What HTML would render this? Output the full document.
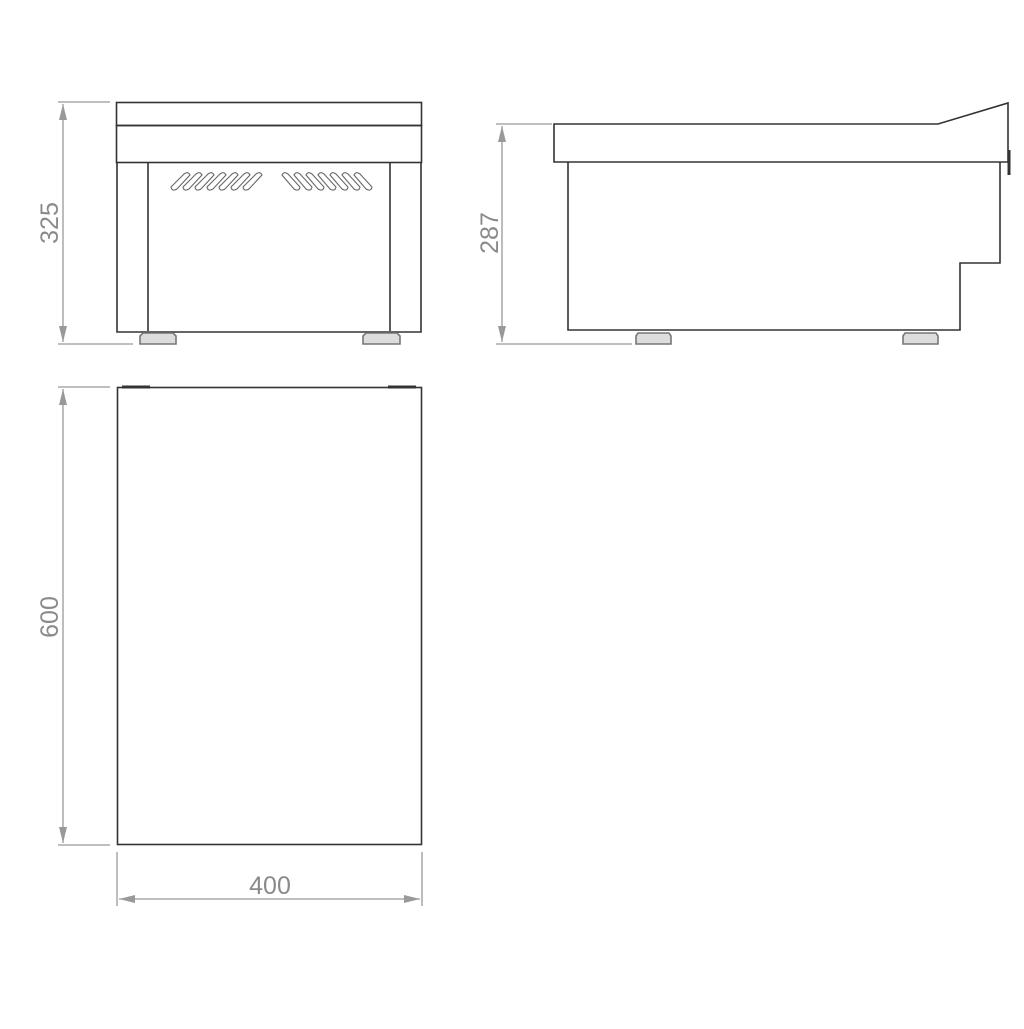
<!DOCTYPE html>
<html><head><style>html,body{margin:0;padding:0;background:#fff}</style></head>
<body>
<svg width="1024" height="1024" viewBox="0 0 1024 1024" xmlns="http://www.w3.org/2000/svg">
<defs>
<marker id="a" viewBox="0 0 10 10" refX="10" refY="5" markerWidth="16" markerHeight="8" orient="auto-start-reverse" markerUnits="userSpaceOnUse" preserveAspectRatio="none">
<path d="M0,0 L10,5 L0,10 Z" fill="#999"/></marker>
</defs>
<g fill="none" stroke="#999" stroke-width="1.3">
<line x1="58" y1="102" x2="110" y2="102"/><line x1="58" y1="344" x2="133" y2="344"/>
<line x1="63" y1="104" x2="63" y2="342" marker-start="url(#a)" marker-end="url(#a)"/>
<line x1="496" y1="124" x2="552" y2="124"/><line x1="496" y1="344" x2="632" y2="344"/>
<line x1="502" y1="126" x2="502" y2="342" marker-start="url(#a)" marker-end="url(#a)"/>
<line x1="58" y1="387" x2="110" y2="387"/><line x1="58" y1="845" x2="110" y2="845"/>
<line x1="63" y1="389" x2="63" y2="843" marker-start="url(#a)" marker-end="url(#a)"/>
<line x1="117" y1="852" x2="117" y2="906"/><line x1="422" y1="852" x2="422" y2="906"/>
<line x1="119" y1="899" x2="420" y2="899" marker-start="url(#a)" marker-end="url(#a)"/>
</g>
<g font-family="Liberation Sans, sans-serif" font-size="25" fill="#8a8a8a" text-anchor="middle">
<text transform="translate(58,223) rotate(-90)">325</text>
<text transform="translate(498,233) rotate(-90)">287</text>
<text transform="translate(58,617) rotate(-90)">600</text>
<text x="270" y="894">400</text>
</g>
<g fill="none" stroke="#333" stroke-width="1.6">
<rect x="116.5" y="102.5" width="305" height="23"/>
<rect x="116.5" y="125.5" width="305" height="37"/>
<path d="M117 162 V332 H421 V162"/>
<line x1="148" y1="163" x2="148" y2="331"/>
<line x1="390" y1="163" x2="390" y2="331"/>
<path d="M140 344 V336 L143 333 H173 L176 336 V344 Z" fill="#ddd" stroke="#777"/>
<path d="M363 344 V336 L366 333 H397 L400 336 V344 Z" fill="#ddd" stroke="#777"/>
</g>
<g fill="none" stroke="#666" stroke-width="1.1">
<g id="vl">
<path d="M171 187 L184 174 Q188 171 190 175 L177 189 Q172 192 171 187 Z"/>
</g>
<use href="#vl" x="12"/><use href="#vl" x="24"/><use href="#vl" x="36"/><use href="#vl" x="48"/><use href="#vl" x="60"/><use href="#vl" x="72"/>
<g id="vr">
<path d="M282 175 Q284 171 288 174 L300 187 Q299 192 294 189 Z"/>
</g>
<use href="#vr" x="12"/><use href="#vr" x="24"/><use href="#vr" x="36"/><use href="#vr" x="48"/><use href="#vr" x="60"/><use href="#vr" x="72"/>
</g>
<g fill="none" stroke="#333" stroke-width="1.6">
<path d="M554 162 V124 H938 L1008 103 V162 Z"/>
<path d="M568 162 V330 H960 V263 H1000 V162"/>
<line x1="1009" y1="150" x2="1009" y2="175" stroke-width="3"/>
<path d="M636 344 V336 L638 333 H669 L671 336 V344 Z" fill="#ddd" stroke="#777"/>
<path d="M903 344 V336 L905 333 H936 L938 336 V344 Z" fill="#ddd" stroke="#777"/>
<rect x="117.5" y="387.5" width="304" height="457"/>
<line x1="122" y1="387" x2="150" y2="387" stroke-width="3"/>
<line x1="388" y1="387" x2="416" y2="387" stroke-width="3"/>
</g>
</svg>
</body></html>
